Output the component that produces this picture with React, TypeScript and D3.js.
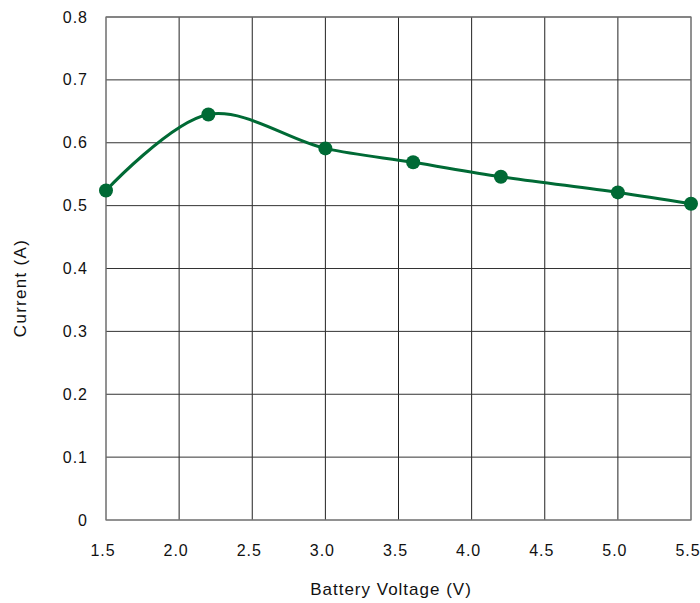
import React from "react";
import * as d3 from "d3";

const voltage = [1.5, 2.2, 3.0, 3.6, 4.2, 5.0, 5.5];
const current = [0.524, 0.645, 0.591, 0.569, 0.546, 0.521, 0.503];
const xTicks = [1.5, 2.0, 2.5, 3.0, 3.5, 4.0, 4.5, 5.0, 5.5];
const yTicks = [0, 0.1, 0.2, 0.3, 0.4, 0.5, 0.6, 0.7, 0.8];

const width = 700;
const height = 603;
const left = 106;
const right = 691;
const top = 17;
const bottom = 520;
const green = "#006a35";
const font = "'Liberation Sans', Arial, sans-serif";

export default function App() {
  const x = d3.scaleLinear().domain([1.5, 5.5]).range([left, right]);
  const y = d3.scaleLinear().domain([0, 0.8]).range([bottom, top]);

  const line = d3
    .line<number>()
    .x((d, i) => x(voltage[i]))
    .y((d) => y(d))
    .curve(d3.curveCatmullRom.alpha(0.5));

  return (
    <svg
      width={width}
      height={height}
      style={{ position: "absolute", left: 0, top: 0 }}
      fontFamily={font}
    >
      <rect width={width} height={height} fill="#fff" />
      {/* grid */}
      {xTicks.map((t) => (
        <line
          key={"gx" + t}
          x1={x(t)}
          x2={x(t)}
          y1={top}
          y2={bottom}
          stroke={t === 1.5 || t === 5.5 ? "#777" : "#222"}
          strokeWidth={1}
        />
      ))}
      {yTicks.map((t) => (
        <line
          key={"gy" + t}
          x1={left}
          x2={right}
          y1={y(t)}
          y2={y(t)}
          stroke={t === 0 ? "#777" : "#333"}
          strokeWidth={1}
        />
      ))}
      <rect
        x={left}
        y={top}
        width={right - left}
        height={bottom - top}
        fill="none"
        stroke="#777"
        strokeWidth={1.2}
      />
      {/* tick labels */}
      {yTicks.map((t) => (
        <text
          key={"ly" + t}
          x={88}
          y={y(t)}
          dy="0.35em"
          textAnchor="end"
          fontSize={16}
          letterSpacing={1}
          fill="#111"
        >
          {t === 0 ? "0" : t.toFixed(1)}
        </text>
      ))}
      {xTicks.map((t) => (
        <text
          key={"lx" + t}
          x={x(t) - 3}
          y={556}
          textAnchor="middle"
          fontSize={16}
          letterSpacing={1}
          fill="#111"
        >
          {t.toFixed(1)}
        </text>
      ))}
      {/* series */}
      <path d={line(current) || ""} fill="none" stroke={green} strokeWidth={3} />
      {current.map((c, i) => (
        <circle key={"p" + i} cx={x(voltage[i])} cy={y(c)} r={7} fill={green} />
      ))}
      {/* axis titles */}
      <text
        x={391}
        y={595}
        textAnchor="middle"
        fontSize={17}
        letterSpacing={1}
        fill="#111"
      >
        Battery Voltage (V)
      </text>
      <text
        transform="translate(26, 288) rotate(-90)"
        textAnchor="middle"
        fontSize={17}
        letterSpacing={1.3}
        fill="#111"
      >
        Current (A)
      </text>
    </svg>
  );
}
